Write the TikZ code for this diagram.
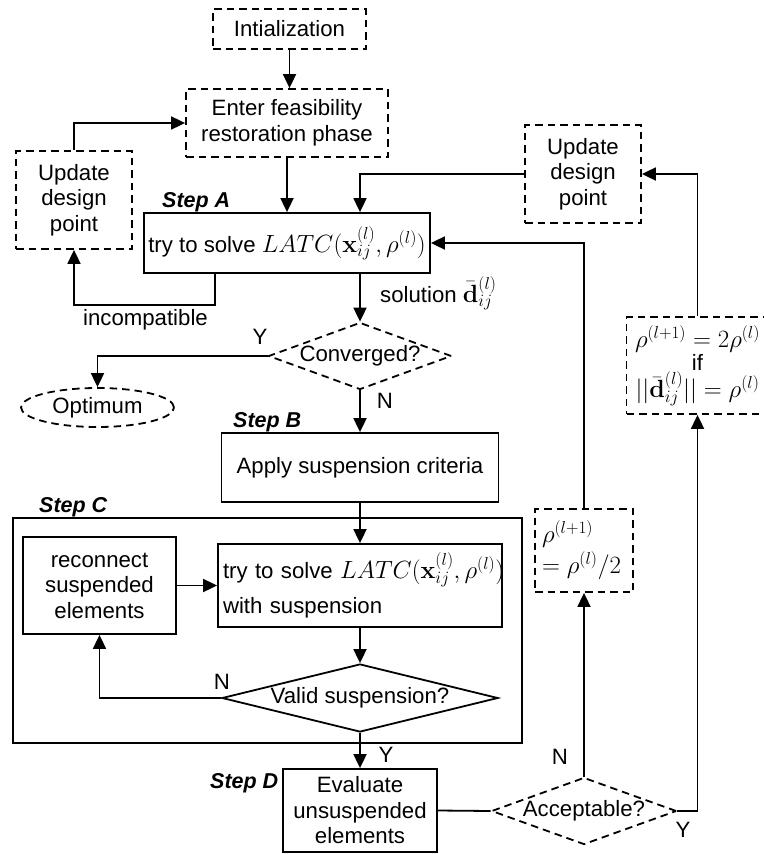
\documentclass[tikz,border=0pt]{standalone}
\usepackage[no-math]{fontspec}
\setmainfont{Liberation Sans}
\usetikzlibrary{shapes.geometric,arrows.meta}
% formulas are set a little larger than the surrounding sans text
\newcommand\fml[1]{{\fontsize{23.8}{25.5}\selectfont$#1$}}
\begin{document}
\begin{tikzpicture}[x=1pt,y=-1pt,
  every node/.style={font=\fontsize{22.2}{25.5}\selectfont},
  ln/.style={line width=1.8pt},
  dsh/.style={dash pattern=on 7.5pt off 5pt},
  box/.style={draw, ln, inner sep=0pt, align=center},
  dbox/.style={box, dsh},
  dia/.style={draw, ln, shape=diamond, inner sep=0pt},
  arr/.style={ln, -{Triangle[length=14pt,width=13pt]}},
  con/.style={ln},
  steplbl/.style={font=\fontsize{21.5}{25}\selectfont\bfseries\itshape, inner sep=0pt, anchor=base west},
  yn/.style={inner sep=0pt}
]
\useasboundingbox (0,0) rectangle (763,854);

% outer frame of step C
\node[box, minimum width=509pt, minimum height=225pt] (stepC) at (267.5,630.5) {};

% boxes
\node[dbox, minimum width=153pt, minimum height=40pt] (init) at (289.5,29) {Intialization};
\node[dbox, minimum width=202pt, minimum height=68pt] (enter) at (287,123) {Enter feasibility\\restoration phase};
\node[dbox, minimum width=116pt, minimum height=98pt] (updL) at (74,200) {Update\\design\\point};
\node[dbox, minimum width=116pt, minimum height=98pt] (updR) at (583,174) {Update\\design\\point};
\node[box, minimum width=286pt, minimum height=60pt] (stepA) at (287,243)
  {try to solve \fml{LATC(\mathbf{x}_{ij}^{(l)},\rho^{(l)})}};
\node[dbox, minimum width=142pt, minimum height=97pt,
      font=\fontsize{22.2}{23.5}\selectfont] (cond) at (697.5,365.5)
  {\fml{\rho^{(l+1)}=2\rho^{(l)}}\\if\\\fml{||\bar{\mathbf{d}}_{ij}^{(l)}||=\rho^{(l)}}};
\node[dia, dsh, aspect=2.73, minimum width=183pt, minimum height=67pt] (conv) at (360,356) {Converged?};
\node[draw, ln, dsh, ellipse, inner sep=0pt, minimum width=153pt, minimum height=39pt] (opt) at (97.5,407.5) {Optimum};
\node[box, minimum width=277pt, minimum height=69pt] (stepB) at (360,467.5) {Apply suspension criteria};
\node[box, minimum width=153pt, minimum height=97pt] (recon) at (99.5,585.5) {reconnect\\suspended\\elements};
\node[box, align=left, text width=274pt, inner xsep=5pt, minimum height=83pt] (tryC) at (360,585.5)
  {\mbox{try to solve \fml{LATC(\mathbf{x}_{ij}^{(l)},\rho^{(l)})}}\\[9pt]with suspension};
\node[dia, aspect=4.06, minimum width=276pt, minimum height=68pt] (valid) at (360,698) {Valid suspension?};
\node[dbox, align=left, text width=84pt, inner xsep=7pt, minimum height=83pt] (half) at (584,550.5)
  {\fml{\rho^{(l+1)}}\\[3pt]\fml{=\rho^{(l)}/2}};
\node[box, minimum width=154pt, minimum height=83pt] (stepD) at (360,810.5) {Evaluate\\unsuspended\\elements};
\node[dia, dsh, aspect=2.76, minimum width=185pt, minimum height=67pt] (acc) at (584,811) {Acceptable?};

% step labels
\node[steplbl] (lblA) at (162,207) {Step A};
\node[steplbl] (lblB) at (233,427) {Step B};
\node[steplbl] (lblC) at (39,512) {Step C};
\node[steplbl] (lblD) at (210,788) {Step D};

% branch labels
\node[yn] (yConv) at (260,337) {Y};
\node[yn] (nConv) at (385,401) {N};
\node[yn] (nValid) at (222,682) {N};
\node[yn] (yValid) at (386,755) {Y};
\node[yn] (nAcc) at (560,757) {N};
\node[yn] (yAcc) at (683,830) {Y};
\node[yn] (incomp) at (145.5,320) {incompatible};
\node[inner sep=0pt, anchor=base west] (sol) at (380,302) {solution \fml{\bar{\mathbf{d}}_{ij}^{(l)}}};

% connectors
\coordinate (incA) at (215,305);
\draw[arr] (init.south) -- (init.south |- enter.north);
\draw[arr] (enter.south) -- (enter.south |- stepA.north);
\draw[arr] (updL.north) |- (enter.west);
\draw[arr] (incA |- stepA.south) -- (incA) -| (updL.south);
\draw[arr] (conv.north |- stepA.south) -- (conv.north);
\draw[arr] (updR.west) -| (conv.north |- stepA.north);
\draw[arr] (cond.north) |- (updR.east);
\draw[arr] (half.north) |- (stepA.east);
\draw[arr] (conv.west) -| (opt.north);
\draw[arr] (conv.south) -- (stepB.north);
\draw[arr] (stepB.south) -- (tryC.north);
\draw[arr] (recon.east) -- (tryC.west);
\draw[arr] (tryC.south) -- (valid.north);
\draw[arr] (valid.west) -| (recon.south);
\draw[arr] (valid.south) -- (stepD.north);
\draw[con] (stepD.east) -- (acc.west);
\draw[arr] (acc.north) -- (half.south);
\draw[arr] (acc.east) -| (cond.south);
\end{tikzpicture}
\end{document}
